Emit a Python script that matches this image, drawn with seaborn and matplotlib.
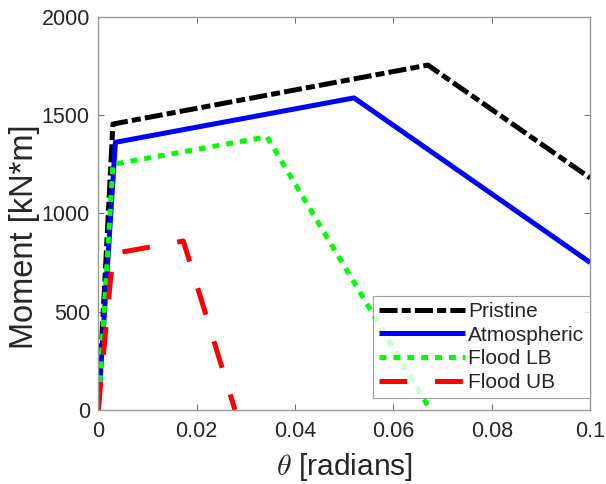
import numpy as np
import pandas as pd
import matplotlib
matplotlib.use("Agg")
import matplotlib.pyplot as plt
import seaborn as sns

# Data
pristine_x = [0.0, 0.003, 0.067, 0.1]
pristine_y = [0, 1455, 1755, 1180]
atmos_x = [0.0, 0.0035, 0.052, 0.1]
atmos_y = [0, 1362, 1588, 750]
floodlb_x = [0.0, 0.003, 0.0343, 0.0675]
floodlb_y = [0, 1250, 1390, 0]
floodub_x = [0.0, 0.003, 0.0173, 0.0278]
floodub_y = [0, 795, 860, 0]

series = ["Pristine", "Atmospheric", "Flood LB", "Flood UB"]
xticks = [0, 0.02, 0.04, 0.06, 0.08, 0.1]
xticklabels = ["0", "0.02", "0.04", "0.06", "0.08", "0.1"]
yticks = [0, 500, 1000, 1500, 2000]

sns.set_theme(style="white")
plt.rcParams["font.family"] = ["Liberation Sans", "DejaVu Sans"]
plt.rcParams["mathtext.fontset"] = "cm"
plt.rcParams["lines.scale_dashes"] = False

fig = plt.figure(figsize=(6.06, 4.84), dpi=100)
ax = fig.add_axes([0.162, 0.153, 0.812, 0.812])

styles = {
    "Pristine": dict(color="black", dashes=(13, 3, 6.5, 3)),
    "Atmospheric": dict(color="#0000ff", dashes=None),
    "Flood LB": dict(color="#00ff00", dashes=(5, 5)),
    "Flood UB": dict(color="#ff0000", dashes=(20, 20)),
}
data = {
    "Pristine": (pristine_x, pristine_y),
    "Atmospheric": (atmos_x, atmos_y),
    "Flood LB": (floodlb_x, floodlb_y),
    "Flood UB": (floodub_x, floodub_y),
}
for name in series:
    xs, ys = data[name]
    df = pd.DataFrame({"x": xs, "y": ys})
    st = styles[name]
    sns.lineplot(data=df, x="x", y="y", ax=ax, sort=False, color=st["color"],
                 linewidth=3.6, label=name, estimator=None)
    line = ax.get_lines()[-1]
    line.set_solid_capstyle("butt")
    line.set_dash_capstyle("butt")
    if st["dashes"] is not None:
        line.set_dashes(st["dashes"])

ax.set_xlim(0, 0.1)
ax.set_ylim(0, 2000)
ax.set_xticks(xticks)
ax.set_xticklabels(xticklabels)
ax.set_yticks(yticks)
tc = "#262626"
ax.tick_params(direction="in", length=4, width=0.6, colors="#555555",
               labelcolor=tc, labelsize=15.5, top=True, right=True,
               bottom=True, left=True)
ax.tick_params(axis="x", pad=8)
ax.tick_params(axis="y", pad=6)
for s in ax.spines.values():
    s.set_visible(True)
    s.set_color("#999999")
    s.set_linewidth(1.0)

ax.set_xlabel(r"$\theta$ [radians]", fontsize=21.5, color=tc, va="top")
ax.xaxis.set_label_coords(0.5, -0.104)
ax.set_ylabel("Moment [kN*m]", fontsize=23.5, color=tc, va="bottom")
ax.yaxis.set_label_coords(-0.118, 0.441)

leg = ax.legend(loc="lower right", bbox_to_anchor=(1.0, 0.03), borderaxespad=0,
                fontsize=15, handlelength=4.1, handletextpad=0.15,
                labelspacing=0.22, borderpad=0.3, frameon=True, fancybox=False,
                edgecolor="#888888")
leg.get_frame().set_linewidth(0.8)
for t in leg.get_texts():
    t.set_color(tc)
for h in leg.get_lines():
    h.set_linewidth(3.6)

fig.savefig("out.png", dpi=100, facecolor="white")
